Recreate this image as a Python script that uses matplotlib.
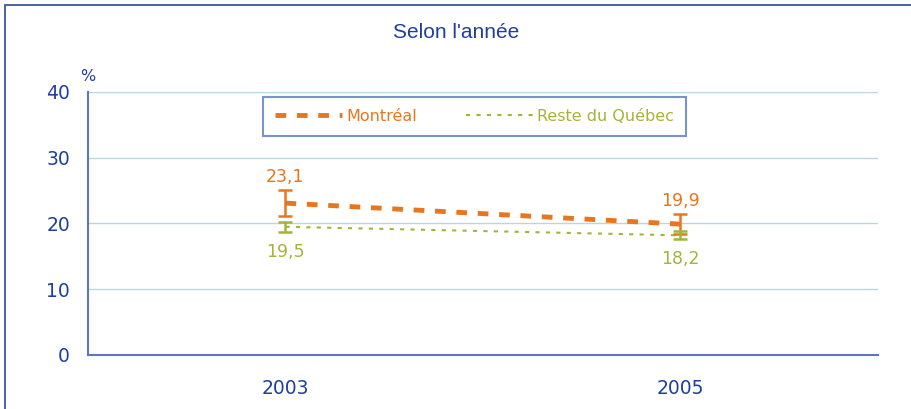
import matplotlib.pyplot as plt
from matplotlib.patches import Rectangle

plt.rcParams['font.family'] = ['DejaVu Sans']

years = ['2003', '2005']
montreal = [23.1, 19.9]
montreal_err = [2.0, 1.5]
reste = [19.5, 18.2]
reste_err = [0.8, 0.6]
labels_montreal = ['23,1', '19,9']
labels_reste = ['19,5', '18,2']

ORANGE = '#E8761E'
GREEN = '#A4B43A'
BLUE = '#1E3FA0'
AXIS = '#5A78C0'
GRID = '#BBD5E2'

fig = plt.figure(figsize=(9.12, 4.09), dpi=100)
ax = fig.add_axes([88 / 912, 1 - 355 / 409, 790 / 912, 263 / 409])

x = list(range(len(years)))
ax.plot(x, montreal, color=ORANGE, lw=3.5, ls=(0, (2.2, 2.2)), label='Montréal', zorder=3)
ax.plot(x, reste, color=GREEN, lw=1.5, ls=(0, (2, 3)), label='Reste du Québec', zorder=3)
ax.errorbar(x, montreal, yerr=montreal_err, fmt='none', ecolor=ORANGE, elinewidth=1.8,
            capsize=5, capthick=1.8, zorder=4)
ax.errorbar(x, reste, yerr=reste_err, fmt='none', ecolor=GREEN, elinewidth=1.8,
            capsize=5, capthick=1.8, zorder=4)

for i in x:
    ax.annotate(labels_montreal[i], (i, montreal[i] + montreal_err[i]), xytext=(0, 3),
                textcoords='offset points', ha='center', va='bottom', color=ORANGE, fontsize=12.5)
    ax.annotate(labels_reste[i], (i, reste[i] - reste_err[i]), xytext=(0, -8),
                textcoords='offset points', ha='center', va='top', color=GREEN, fontsize=12.5)

ax.set_xlim(-0.5, 1.5)
ax.set_ylim(0, 40)
ax.set_yticks([0, 10, 20, 30, 40])
ax.set_xticks(x)
ax.set_xticklabels(years)
ax.yaxis.grid(True, color=GRID, lw=1)
ax.set_axisbelow(True)
for side in ['top', 'right']:
    ax.spines[side].set_visible(False)
for side in ['left', 'bottom']:
    ax.spines[side].set_color(AXIS)
    ax.spines[side].set_linewidth(1.5)
ax.tick_params(axis='both', length=0, colors=BLUE, labelsize=13.5)
ax.tick_params(axis='y', pad=13)
ax.tick_params(axis='x', pad=17)

ax.text(0.0, 1.03, '%', transform=ax.transAxes, ha='center', va='bottom', color=BLUE, fontsize=11.5)

leg = ax.legend(loc='upper left', bbox_to_anchor=(175 / 790, 1 - 5 / 263), ncol=2, frameon=True,
                fancybox=False, fontsize=11.5, handlelength=4.2, columnspacing=3.0,
                borderpad=0.75, borderaxespad=0, handletextpad=0.3)
leg.get_frame().set_edgecolor(AXIS)
leg.get_frame().set_linewidth(1.5)
for txt, c in zip(leg.get_texts(), [ORANGE, GREEN]):
    txt.set_color(c)

fig.text(0.5, 1 - 32 / 409, "Selon l'année", ha='center', va='center', color=BLUE, fontsize=15,
         family='Liberation Sans')
fig.patches.append(Rectangle((5 / 912, -0.1), 1.2, 1 - 5 / 409 + 0.1, transform=fig.transFigure,
                             fill=False, edgecolor='#2A4A9A', lw=1.2))

fig.savefig('out.png', dpi=100)
